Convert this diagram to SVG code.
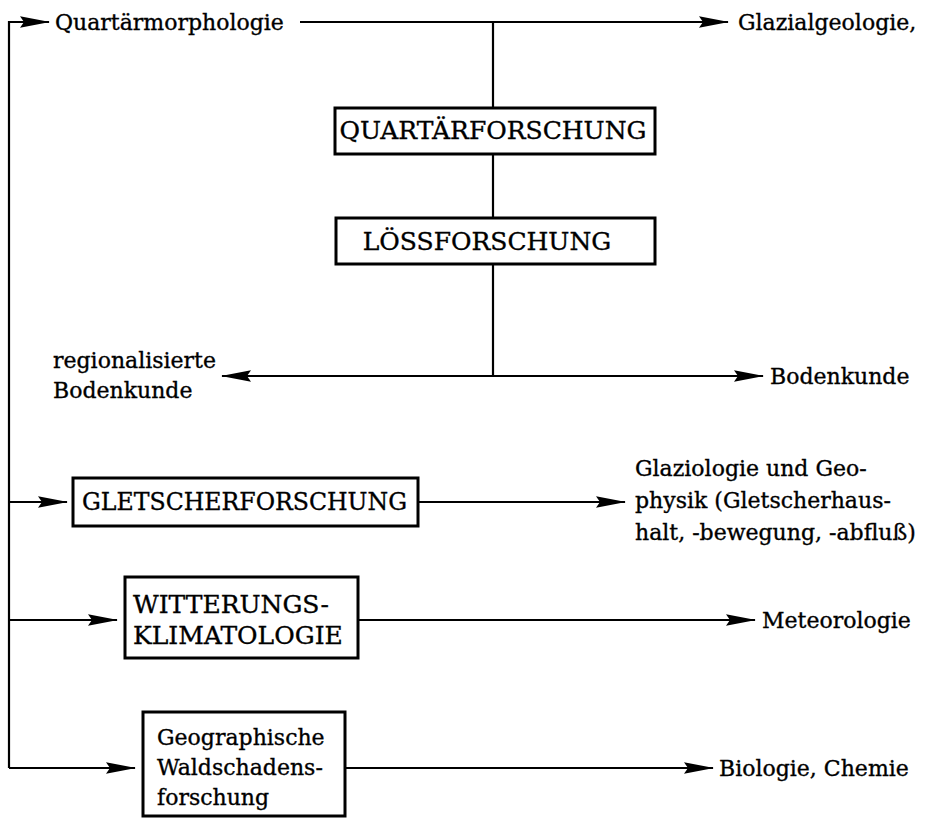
<svg xmlns="http://www.w3.org/2000/svg" width="925" height="818" viewBox="0 0 925 818">
<style>
  text { font-family: "DejaVu Serif", "Liberation Serif", serif; font-size: 22px; fill: #000; stroke: #000; stroke-width: 0.35; }
  .cap { font-size: 25px; }
  .box { fill: #fff; stroke: #000; stroke-width: 3; }
  .ln { fill: none; stroke: #000; stroke-width: 2.2; }
  .arr { marker-end: url(#ah); }
</style>
<defs>
  <marker id="ah" markerUnits="userSpaceOnUse" markerWidth="30" markerHeight="12" refX="29" refY="6" orient="auto" overflow="visible">
    <path d="M0,0.3 L30,6 L0,11.7 L4,6 Z" fill="#000"/>
  </marker>
</defs>
<rect width="925" height="818" fill="#fff"/>
<g id="connectors">
  <path class="ln" d="M9,768 V22 H49" marker-end="url(#ah)"/>
  <path class="ln arr" d="M300,22 H728"/>
  <path class="ln" d="M493,22 V108"/>
  <path class="ln" d="M493,154 V218"/>
  <path class="ln" d="M493,264 V376"/>
  <path class="ln arr" d="M493,376 H763"/>
  <path class="ln arr" d="M493,376 H222"/>
  <path class="ln arr" d="M9,502 H67"/>
  <path class="ln arr" d="M418,502 H625"/>
  <path class="ln arr" d="M9,620 H117"/>
  <path class="ln arr" d="M358,620 H755"/>
  <path class="ln arr" d="M9,768 H135"/>
  <path class="ln arr" d="M345,768 H713"/>
</g>
<g id="quartaermorphologie"><text x="55" y="30">Quartärmorphologie</text></g>
<g id="glazialgeologie"><text x="738" y="30">Glazialgeologie,</text></g>
<g id="quartaerforschung">
  <rect class="box" x="335" y="108" width="320" height="46"/>
  <text class="cap" x="493" y="139" text-anchor="middle">QUARTÄRFORSCHUNG</text>
</g>
<g id="loessforschung">
  <rect class="box" x="336" y="218" width="319" height="46"/>
  <text class="cap" x="487" y="250" text-anchor="middle">LÖSSFORSCHUNG</text>
</g>
<g id="regionalisierte-bodenkunde">
  <text x="53" y="368">regionalisierte</text>
  <text x="53" y="398">Bodenkunde</text>
</g>
<g id="bodenkunde"><text x="770" y="384">Bodenkunde</text></g>
<g id="gletscherforschung">
  <rect class="box" x="73" y="478" width="345" height="48"/>
  <text class="cap" x="82" y="510" textLength="325" lengthAdjust="spacingAndGlyphs">GLETSCHERFORSCHUNG</text>
</g>
<g id="glaziologie">
  <text x="635" y="476">Glaziologie und Geo-</text>
  <text x="635" y="508">physik (Gletscherhaus-</text>
  <text x="635" y="540">halt, -bewegung, -abfluß)</text>
</g>
<g id="witterungsklimatologie">
  <rect class="box" x="125" y="577" width="233" height="81"/>
  <text class="cap" x="133" y="613">WITTERUNGS-</text>
  <text class="cap" x="133" y="644">KLIMATOLOGIE</text>
</g>
<g id="meteorologie"><text x="762" y="628">Meteorologie</text></g>
<g id="waldschadensforschung">
  <rect class="box" x="143" y="712" width="202" height="104"/>
  <text x="157" y="745">Geographische</text>
  <text x="157" y="775">Waldschadens-</text>
  <text x="157" y="805">forschung</text>
</g>
<g id="biologie-chemie"><text x="719" y="776">Biologie, Chemie</text></g>
</svg>
